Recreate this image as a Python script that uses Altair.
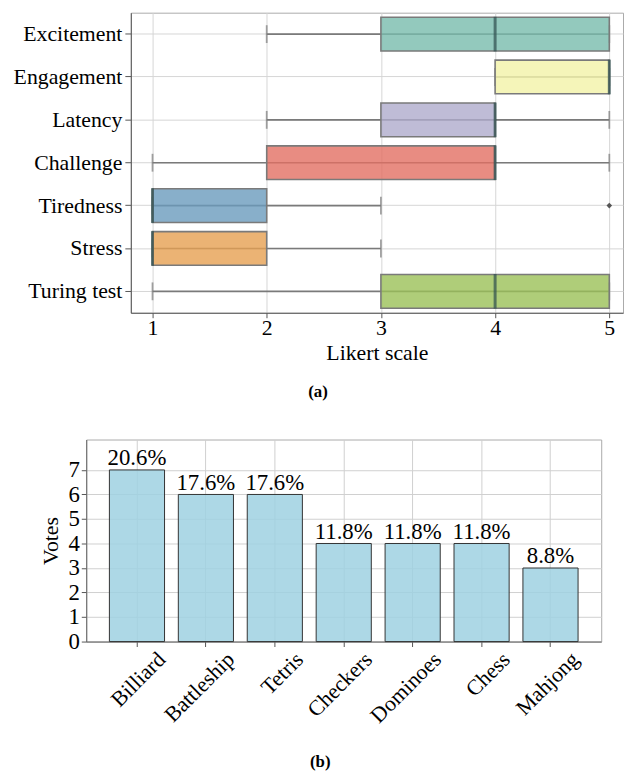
import altair as alt
import pandas as pd

# ---------------- data: panel (a) ----------------
categories = ["Excitement", "Engagement", "Latency", "Challenge", "Tiredness", "Stress", "Turing test"]
whisker_low = [2, 4, 2, 1, 1, 1, 1]
q1 = [3, 4, 3, 2, 1, 1, 3]
median = [4, 5, 4, 4, 1, 1, 4]
q3 = [5, 5, 4, 4, 2, 2, 5]
whisker_high = [5, 5, 5, 5, 3, 3, 5]
box_colors = ["#78bcad", "#f2f2a8", "#afabcc", "#e26f63", "#6a9bbd", "#e6a051", "#9bc158"]
outlier_cat = ["Tiredness"]
outlier_val = [5]

# ---------------- data: panel (b) ----------------
games = ["Billiard", "Battleship", "Tetris", "Checkers", "Dominoes", "Chess", "Mahjong"]
votes = [7, 6, 6, 4, 4, 4, 3]
shares = ["20.6%", "17.6%", "17.6%", "11.8%", "11.8%", "11.8%", "8.8%"]

FONT = "'Liberation Serif', 'Times New Roman', serif"

box_df = pd.DataFrame({"cat": categories, "lo": whisker_low, "q1": q1,
                       "med": median, "q3": q3, "hi": whisker_high})
caps_df = pd.DataFrame({"cat": categories + categories,
                        "val": whisker_low + whisker_high})
out_df = pd.DataFrame({"cat": outlier_cat, "val": outlier_val})

y_enc = alt.Y("cat:N", sort=categories,
              scale=alt.Scale(domain=categories, paddingInner=0, paddingOuter=0),
              axis=alt.Axis(title=None, labelFont=FONT, labelFontSize=22, labelColor="black",
                            labelPadding=3, tickSize=6, tickColor="#555", domainColor="#555",
                            gridColor="#d6d6d6", bandPosition=0.5, labelLimit=300, grid=True))
x_scale = alt.Scale(domain=[0.81, 5.12], nice=False, zero=False)
x_axis = alt.Axis(values=[1, 2, 3, 4, 5], format="d", title="Likert scale",
                  titleFont=FONT, titleFontSize=22, titleFontWeight="normal", titleColor="black",
                  titlePadding=4, labelFont=FONT, labelFontSize=22, labelColor="black",
                  labelPadding=0, tickSize=5, tickColor="#555", domainColor="#555",
                  gridColor="#d6d6d6")

whisk = alt.Chart(box_df).mark_rule(color="#7a7a7a", strokeWidth=1.6).encode(
    x=alt.X("lo:Q", scale=x_scale, axis=x_axis), x2="hi:Q", y=y_enc)
caps = alt.Chart(caps_df).mark_tick(color="#7a7a7a", thickness=1.8, size=18).encode(
    x=alt.X("val:Q", scale=x_scale, axis=x_axis), y=y_enc)
boxes = alt.Chart(box_df).mark_bar(size=34, stroke="#7a7a7a", strokeWidth=1.6, fillOpacity=0.8).encode(
    x=alt.X("q1:Q", scale=x_scale, axis=x_axis), x2="q3:Q", y=y_enc,
    color=alt.Color("cat:N", scale=alt.Scale(domain=categories, range=box_colors), legend=None))
meds = alt.Chart(box_df).mark_tick(color="#2f4f4f", thickness=3, size=35).encode(
    x=alt.X("med:Q", scale=x_scale, axis=x_axis), y=y_enc)
outs = alt.Chart(out_df).mark_point(shape="diamond", filled=True, color="#555", size=32, opacity=1).encode(
    x=alt.X("val:Q", scale=x_scale, axis=x_axis), y=y_enc)

panel_a = alt.layer(whisk, caps, boxes, meds, outs).properties(
    width=497, height=303,
    title=alt.TitleParams("(a)", orient="bottom", anchor="middle", frame="bounds",
                          font=FONT, fontSize=17, fontWeight="bold", color="black", offset=21))

spacer = alt.Chart(pd.DataFrame({"v": [0]})).mark_rule(opacity=0).encode(
    x=alt.value(20), y=alt.value(100), y2=alt.value(110)
).properties(width=45, height=303, view=alt.ViewBackground(stroke="transparent"))

row_a = alt.hconcat(spacer, panel_a, spacing=0, bounds="flush")

# ---------------- panel (b) ----------------
bar_df = pd.DataFrame({"game": games, "votes": votes, "share": shares})
xb = alt.X("game:N", sort=games,
           scale=alt.Scale(domain=games, paddingInner=0.2, paddingOuter=0.336),
           axis=alt.Axis(title=None, labelAngle=-45, labelAlign="right", labelBaseline="top",
                         labelOffset=18, labelPadding=2, bandPosition=0.5, labelFont=FONT,
                         labelFontSize=22, labelColor="black", tickSize=5, tickColor="#555",
                         domainColor="#666", gridColor="#cfcfcf", grid=True))
yb = alt.Y("votes:Q", scale=alt.Scale(domain=[0, 8.24], nice=False),
           axis=alt.Axis(values=[0, 1, 2, 3, 4, 5, 6, 7], title="Votes", titleFont=FONT,
                         titleFontSize=22, titleFontWeight="normal", titleColor="black",
                         titlePadding=6, labelFont=FONT, labelFontSize=23, labelColor="black",
                         labelPadding=2, tickSize=5, tickColor="#555", domainColor="#666",
                         gridColor="#cfcfcf"))
bars = alt.Chart(bar_df).mark_bar(fill="#9fd1e2", fillOpacity=0.85, stroke="#333",
                                  strokeWidth=1).encode(x=xb, y=yb)
labels = alt.Chart(bar_df).mark_text(baseline="alphabetic", dy=-5, font=FONT, fontSize=23,
                                     color="black").encode(x=xb, y=yb, text="share:N")

panel_b = alt.layer(bars, labels).properties(
    width=520, height=204,
    title=alt.TitleParams("(b)", orient="bottom", anchor="middle", frame="bounds",
                          font=FONT, fontSize=17, fontWeight="bold", color="black", offset=28))

chart = alt.vconcat(row_a, panel_b, spacing=38).properties(
    padding={"left": 4, "top": 0, "right": 0, "bottom": 0}
).configure(font=FONT, view=alt.ViewConfig(stroke="#aaa"))

chart.save("out.html", embed_options={"renderer": "svg", "actions": False})
